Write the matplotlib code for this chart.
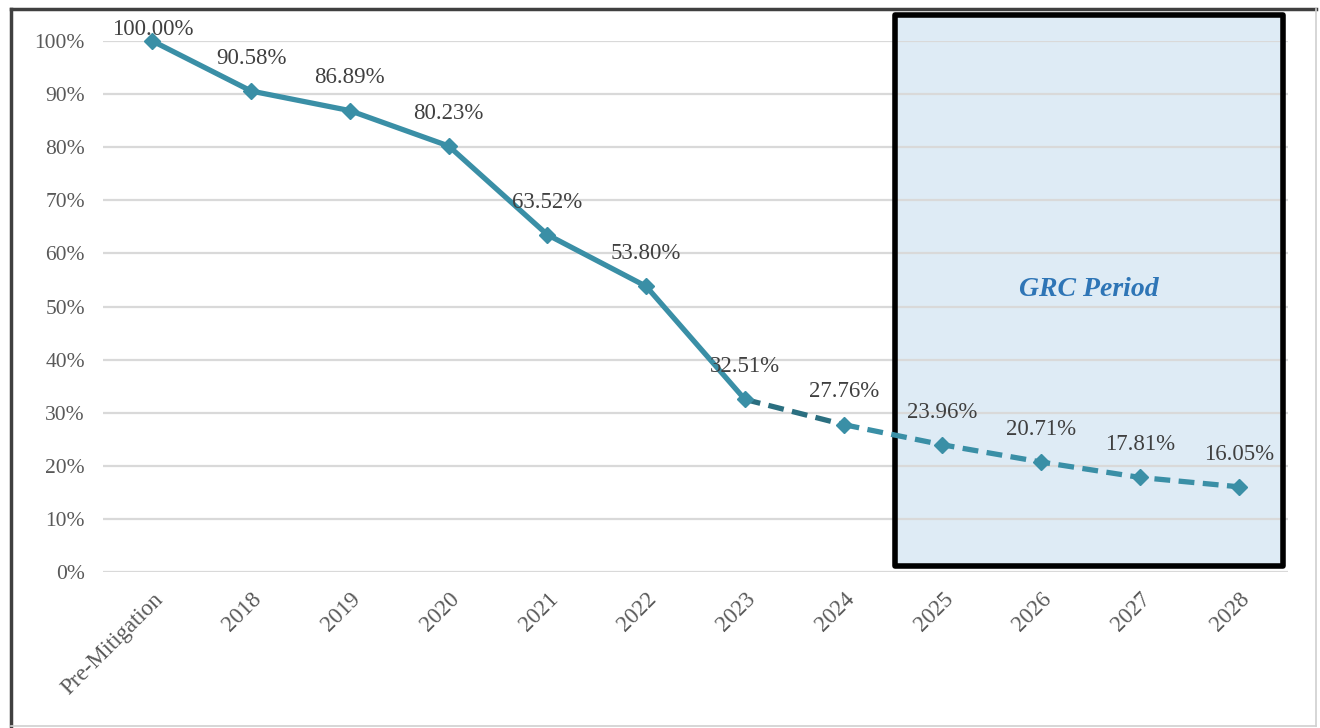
import matplotlib.pyplot as plt
from matplotlib.patches import Rectangle
from matplotlib.lines import Line2D
from matplotlib.ticker import PercentFormatter

categories = ['Pre-Mitigation', '2018', '2019', '2020', '2021', '2022',
              '2023', '2024', '2025', '2026', '2027', '2028']
values = [100.00, 90.58, 86.89, 80.23, 63.52, 53.80,
          32.51, 27.76, 23.96, 20.71, 17.81, 16.05]
last_actual = '2023'
grc_start, grc_end = '2025', '2028'

teal = '#3A8FA6'
teal_dark = '#2B6F80'
plt.rcParams['font.family'] = ['Liberation Serif', 'DejaVu Serif']

fig = plt.figure(figsize=(13.2, 7.28), dpi=100)
ax = fig.add_axes([103 / 1320, 1 - 572 / 728, 1185 / 1320, 531 / 728])

x = list(range(len(categories)))
y = [v / 100 for v in values]
split = categories.index(last_actual)

# grid
ax.set_ylim(0, 1)
ax.set_xlim(-0.5, len(categories) - 0.5)
ax.set_yticks([i / 10 for i in range(11)])
ax.yaxis.set_major_formatter(PercentFormatter(1.0, decimals=0))
ax.grid(axis='y', color='#D9D9D9', lw=1.6)
ax.set_axisbelow(True)
for s in ax.spines.values():
    s.set_visible(False)
ax.tick_params(length=0, labelsize=15.5, labelcolor='#595959')
ax.tick_params(axis='y', pad=13)
ax.tick_params(axis='x', pad=12, labelsize=16.5)
ax.set_xticks(x)
ax.set_xticklabels(categories, rotation=45, ha='right', va='top',
                   rotation_mode='anchor')

# GRC period box
g0 = categories.index(grc_start) - 0.48
g1 = categories.index(grc_end) + 0.45
ax.add_patch(Rectangle((g0, 0.011), g1 - g0, 1.038, facecolor='#DEEBF5',
                       edgecolor='none', zorder=0.2, clip_on=False))
ax.add_patch(Rectangle((g0, 0.011), g1 - g0, 1.038, facecolor='none',
                       edgecolor='black', lw=4, zorder=2, clip_on=False,
                       joinstyle='round'))
ax.text((g0 + g1) / 2, 0.532, 'GRC Period', ha='center', va='center',
        fontsize=20, fontweight='bold', fontstyle='italic', color='#2E75B6')

# actual values
ax.plot(x[:split + 1], y[:split + 1], color=teal, lw=3.8, zorder=3,
        solid_capstyle='round')
# projected values
ax.plot(x[split:split + 2], y[split:split + 2], color=teal_dark, lw=3.8,
        ls=(0, (3, 1.6)), zorder=3)
ax.plot(x[split + 1:], y[split + 1:], color=teal, lw=3.8,
        ls=(0, (3, 1.6)), zorder=3)
ax.plot(x, y, ls='none', marker='D', ms=8, color=teal, zorder=4,
        clip_on=False)

for i, (xi, yi, v) in enumerate(zip(x, y, values)):
    off = 8 if i == 0 else 23.5
    ax.annotate(f'{v:.2f}%', (xi, yi), xytext=(0, off),
                textcoords='offset points', ha='center', va='center',
                fontsize=16.5, color='#404040', zorder=5,
                annotation_clip=False)

# outer frame
fig.add_artist(Line2D([11 / 1320, 11 / 1320], [1 - 9 / 728, 2 / 728],
                      color='#404040', lw=2.5))
fig.add_artist(Line2D([11 / 1320, 1316 / 1320], [1 - 9 / 728, 1 - 9 / 728],
                      color='#404040', lw=2.5))
fig.add_artist(Line2D([1316 / 1320, 1316 / 1320], [1 - 9 / 728, 2 / 728],
                      color='#D0D0D0', lw=1.2))
fig.add_artist(Line2D([11 / 1320, 1316 / 1320], [2 / 728, 2 / 728],
                      color='#D0D0D0', lw=1.2))

fig.savefig('out.png', dpi=100, facecolor='white')
